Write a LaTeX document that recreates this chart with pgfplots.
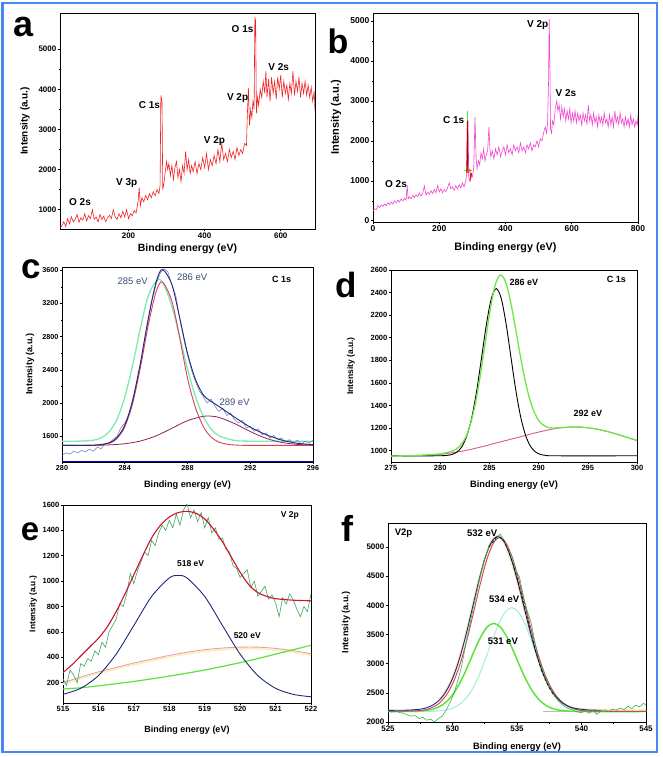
\documentclass[border=0pt]{standalone}
\usepackage{fontspec}
\setmainfont{Liberation Sans}
\usepackage{pgfplots}
\pgfplotsset{compat=1.18}
\definecolor{frameblue}{RGB}{70,135,240}
\definecolor{specred}{RGB}{240,35,35}
\definecolor{specmag}{RGB}{240,70,205}
\definecolor{navy}{RGB}{30,40,125}
\definecolor{pinkred}{RGB}{220,60,95}
\definecolor{maroon}{RGB}{140,35,85}
\definecolor{mint}{RGB}{125,235,175}
\definecolor{datablue}{RGB}{95,125,175}
\definecolor{brightgreen}{RGB}{110,230,70}
\definecolor{dpink}{RGB}{215,90,140}
\definecolor{fitred}{RGB}{205,20,50}
\definecolor{datagreen}{RGB}{60,165,90}
\definecolor{salmon}{RGB}{230,160,165}
\definecolor{paleyellow}{RGB}{250,238,185}
\definecolor{lgreen}{RGB}{95,225,60}
\definecolor{lcyan}{RGB}{165,240,220}
\definecolor{annoblue}{RGB}{60,75,120}
\pgfplotsset{
  panel/.style={
    scale only axis, anchor=south west,
    axis line style={line width=0.7pt},
    tick align=outside, xtick pos=bottom, ytick pos=left,
    major tick length=2.5pt, minor tick length=1.5pt,
    every tick/.style={black, line width=0.6pt},
    /pgf/number format/assume math mode=true,
    /pgf/number format/1000 sep={},
    scaled ticks=false,
    xlabel={Binding energy (eV)}, ylabel={Intensity (a.u.)},
    xticklabel style={inner sep=1pt},
    yticklabel style={inner sep=1pt},
  },
}
\tikzset{lbl/.style={font=\bfseries\fontsize{10}{12}\selectfont, inner sep=0pt}}
\begin{document}
\begin{tikzpicture}
\useasboundingbox (0pt,0pt) rectangle (662pt,757pt);
\draw[frameblue, line width=2.5pt] (2.5pt,5pt) rectangle (657pt,754pt);

% ---------------- panel a ----------------
\begin{axis}[panel, at={(60pt,528pt)}, width=255pt, height=216pt,
  xmin=20, xmax=690, ymin=520, ymax=5900,
  xtick={200,400,600}, ytick={1000,2000,3000,4000,5000},
  minor x tick num=1, minor y tick num=1,
  tick label style={font=\bfseries\fontsize{8}{9}\selectfont},
  xlabel style={font=\bfseries\fontsize{10.5}{12}\selectfont, at={(axis description cs:0.5,-0.0926)}, anchor=center},
  ylabel style={font=\bfseries\fontsize{10}{12}\selectfont, at={(axis description cs:-0.137,0.5)}, anchor=center}]
\addplot[specred, line width=0.6pt] coordinates {
(20,550)(25,600)(30,700)(35,580)(40,780)(45,650)(50,820)(55,700)(60,760)(65,880)
(70,690)(75,800)(80,740)(85,900)(90,720)(95,850)(100,780)(105,1000)(110,760)(115,820)
(120,700)(125,880)(130,760)(135,840)(140,700)(145,800)(150,860)(155,780)(160,1000)(165,820)
(170,760)(175,900)(180,800)(185,960)(190,820)(195,1000)(200,780)(205,900)(210,850)(215,980)
(220,920)(225,1200)(228,1550)(231,1100)(235,1300)(240,1200)(245,1350)(250,1250)(255,1400)(260,1300)
(265,1450)(270,1350)(275,1500)(280,1400)(283,1600)(285,3850)(288,3700)(290,1500)(293,1650)(296,1900)
(300,2200)(303,2000)(306,2150)(310,1850)(314,2100)(318,1750)(322,2050)(326,2200)(330,1800)(334,2000)
(338,1700)(342,2100)(346,1900)(350,2450)(354,2000)(358,2250)(362,1900)(366,2100)(370,1950)(375,2200)
(380,1900)(385,2150)(390,2000)(395,2300)(400,2050)(405,2400)(410,2000)(415,2250)(420,2100)(425,2350)
(430,2150)(435,2500)(440,2200)(445,2650)(450,2250)(455,2400)(460,2200)(465,2500)(470,2300)(475,2450)
(480,2250)(485,2550)(490,2350)(495,2500)(500,2400)(505,2650)(510,2600)(512,3300)(515,4030)(518,3100)
(521,3500)(524,3300)(527,3700)(530,3500)(532,5800)(534,5700)(536,3400)(539,3800)(542,3600)(546,4000)
(550,3800)(554,4200)(558,3900)(561,4450)(564,3800)(568,4250)(572,3700)(576,4300)(580,3900)(584,4200)
(588,3750)(592,4300)(596,4000)(600,4350)(604,3800)(608,4200)(612,3900)(616,4100)(620,3750)(624,4150)
(628,3900)(632,4450)(636,3850)(640,4200)(644,3950)(648,4300)(652,3800)(656,4150)(660,3900)(664,4200)
(668,3850)(672,4100)(676,3800)(680,4050)(684,3700)(688,3950)(690,3450)};
\node[lbl] at (axis cs:499.7,5495) {O 1s};
\node[lbl] at (axis cs:594.5,4565) {V 2s};
\node[lbl] at (axis cs:486.6,3779) {V 2p};
\node[lbl] at (axis cs:255,3612) {C 1s};
\node[lbl] at (axis cs:426,2699) {V 2p};
\node[lbl] at (axis cs:195.5,1664) {V 3p};
\node[lbl] at (axis cs:72.6,1192) {O 2s};
\end{axis}

% ---------------- panel b ----------------
\begin{axis}[panel, at={(373pt,535pt)}, width=265pt, height=209pt,
  xmin=0, xmax=800, ymin=-30, ymax=5200,
  xtick={0,200,400,600,800}, ytick={0,1000,2000,3000,4000,5000},
  minor x tick num=1, minor y tick num=1,
  tick label style={font=\bfseries\fontsize{8.5}{9}\selectfont},
  xlabel style={font=\bfseries\fontsize{10.8}{12}\selectfont, at={(axis description cs:0.5,-0.123)}, anchor=center},
  ylabel style={font=\bfseries\fontsize{11}{12}\selectfont, at={(axis description cs:-0.140,0.5)}, anchor=center}]
\addplot[specmag, line width=0.6pt] coordinates {
(0,250)(5,300)(10,280)(15,380)(20,330)(25,400)(30,360)(35,420)(40,380)(45,450)
(50,400)(55,470)(60,420)(65,500)(70,450)(75,520)(80,470)(85,550)(90,500)(95,560)
(100,520)(103,900)(106,550)(110,600)(115,550)(120,640)(125,580)(130,650)(135,600)(140,700)
(145,620)(150,680)(155,870)(160,640)(165,720)(170,660)(175,750)(180,680)(185,780)(190,700)
(195,880)(200,720)(205,800)(210,700)(215,780)(220,730)(225,820)(230,950)(235,800)(240,850)
(245,760)(250,880)(255,800)(260,900)(265,820)(270,950)(275,850)(280,1000)(283,1200)(285,2550)
(287,2500)(289,1100)(292,1000)(296,1150)(300,1100)(304,1300)(308,2600)(311,1600)(314,1300)(318,1500)
(322,1400)(326,1700)(330,1550)(334,1800)(338,1500)(342,1650)(346,1750)(350,2350)(353,1800)(356,1600)
(360,1750)(365,1550)(370,1800)(375,1650)(380,1850)(385,1600)(390,1750)(395,1850)(400,1650)(405,1900)
(410,1700)(415,1800)(420,1650)(425,1900)(430,1750)(435,1850)(440,1700)(445,1950)(450,1750)(455,1850)
(460,1700)(465,1900)(470,1800)(475,1950)(480,1750)(485,1900)(490,1850)(495,2000)(500,1850)(505,2050)
(510,2000)(515,2200)(520,2350)(524,2200)(527,2450)(530,3500)(532,5050)(534,3900)(536,2300)(539,2200)
(542,2500)(546,2400)(550,2800)(555,3000)(558,2750)(562,2900)(566,2550)(570,2850)(574,2600)(578,2800)
(582,2500)(586,2750)(590,2550)(594,2800)(598,2450)(602,2700)(606,2500)(610,2750)(614,2450)(618,2700)
(622,2500)(626,2650)(630,2400)(634,2700)(638,2500)(642,2650)(646,2400)(650,2900)(654,2500)(658,2650)
(662,2400)(666,2700)(670,2450)(674,2600)(678,2350)(682,2650)(686,2450)(690,2600)(694,2400)(698,2700)
(702,2450)(706,2550)(710,2350)(714,2650)(718,2400)(722,2600)(726,2350)(730,2750)(734,2450)(738,2600)
(742,2400)(746,2700)(750,2450)(754,2550)(758,2350)(762,2600)(766,2400)(770,2550)(774,2350)(778,2650)
(782,2400)(786,2550)(790,2350)(794,2500)(798,2400)(800,2650)};
\addplot[lgreen, line width=1pt] coordinates {(285,1250)(285,2750)};
\addplot[lgreen, line width=1pt] coordinates {(274,1250)(300,1250)};
\addplot[red!70!black, line width=0.8pt] coordinates {(283,1200)(285,2500)(287,1200)};
\addplot[red, line width=0.8pt] coordinates {(292,1300)(295,1050)(298,1200)};
\node[lbl] at (axis cs:497.2,4893) {V 2p};
\node[lbl] at (axis cs:582.6,3203) {V 2s};
\node[lbl] at (axis cs:243.6,2521) {C 1s};
\node[lbl] at (axis cs:69.4,916) {O 2s};
\end{axis}

% ---------------- panel c ----------------
\begin{axis}[panel, at={(62pt,295pt)}, width=251pt, height=195pt,
  xmin=280, xmax=296, ymin=1290, ymax=3640,
  xtick={280,284,288,292,296}, ytick={1600,2000,2400,2800,3200,3600},
  minor x tick num=1, minor y tick num=1,
  tick label style={font=\bfseries\fontsize{7.2}{8}\selectfont},
  xlabel style={font=\bfseries\fontsize{9.2}{11}\selectfont, at={(axis description cs:0.5,-0.118)}, anchor=center},
  ylabel style={font=\bfseries\fontsize{9}{11}\selectfont, at={(axis description cs:-0.127,0.5)}, anchor=center}]
\addplot[blue!80!black, line width=0.8pt] coordinates {(280,1293)(296,1293)};
\addplot[mint, line width=1.3pt, smooth] coordinates {
(280,1540)(281,1541)(282,1553)(282.5,1582)(283,1653)(283.5,1804)(284,2069)(284.5,2455)(285,2903)(285.5,3293)
(286.1,3490)(286.5,3421)(287,3168)(287.5,2802)(288,2414)(288.5,2082)(289,1841)(289.5,1690)(290,1606)(291,1550)(292,1541)(296,1540)};
\addplot[maroon, line width=0.8pt, smooth] coordinates {
(280,1490)(282,1491)(283,1496)(284,1510)(285,1543)(286,1605)(287,1696)(288,1788)(289,1841)(289.3,1845)
(290,1828)(291,1753)(292,1657)(293,1576)(294,1526)(295,1502)(296,1494)};
\addplot[pinkred, line width=0.9pt, smooth] coordinates {
(280,1490)(282,1491)(283,1515)(283.5,1572)(284,1713)(284.5,1993)(285,2430)(285.5,2940)(286,3344)(286.4,3460)
(287,3230)(287.5,2790)(288,2300)(288.5,1950)(289,1720)(289.5,1590)(290,1530)(290.5,1505)(291,1495)(292,1490)(296,1490)};
\addplot[datablue, line width=0.5pt] coordinates {
(280,1370)(280.25,1400)(280.5,1385)(280.75,1420)(281,1400)(281.25,1430)(281.5,1410)(281.75,1445)(282,1420)(282.25,1470)
(282.5,1450)(282.75,1510)(283,1520)(283.25,1560)(283.5,1600)(283.75,1700)(284,1760)(284.25,1850)(284.5,2040)(284.75,2250)
(285,2480)(285.25,2760)(285.5,3000)(285.75,3250)(286,3430)(286.25,3560)(286.5,3620)(286.75,3580)(287,3430)(287.25,3300)
(287.5,3020)(287.75,2780)(288,2580)(288.25,2400)(288.5,2260)(288.75,2150)(289,2080)(289.25,2000)(289.5,2050)(289.75,1960)
(290,1900)(290.25,1940)(290.5,1850)(290.75,1880)(291,1800)(291.25,1760)(291.5,1790)(291.75,1700)(292,1720)(292.25,1660)
(292.5,1690)(292.75,1620)(293,1640)(293.25,1580)(293.5,1610)(293.75,1560)(294,1580)(294.25,1530)(294.5,1560)(294.75,1520)
(295,1550)(295.25,1510)(295.5,1540)(295.75,1520)(296,1550)};
\addplot[navy, line width=0.9pt, smooth] coordinates {
(280,1490)(282,1492)(283,1521)(283.5,1584)(284,1733)(284.5,2028)(285,2483)(285.5,3020)(286,3459)(286.4,3610)
(287,3430)(287.5,3030)(288,2600)(288.5,2290)(289,2100)(289.5,2020)(290,1960)(291,1830)(292,1710)(293,1620)
(294,1555)(295,1515)(296,1500)};
\node[font=\fontsize{9.5}{11}\selectfont, text=annoblue, inner sep=0] at (axis cs:284.5,3467) {285 eV};
\node[font=\fontsize{9.5}{11}\selectfont, text=annoblue, inner sep=0] at (axis cs:288.3,3515) {286 eV};
\node[font=\fontsize{9.5}{11}\selectfont, text=annoblue, inner sep=0] at (axis cs:291.0,2010) {289 eV};
\node[lbl, font=\bfseries\fontsize{9}{11}\selectfont] at (axis cs:294.0,3490) {C 1s};
\end{axis}

% ---------------- panel d ----------------
\begin{axis}[panel, at={(391pt,295pt)}, width=246pt, height=192pt,
  xmin=275, xmax=300, ymin=900, ymax=2600,
  xtick={275,280,285,290,295,300}, ytick={1000,1200,1400,1600,1800,2000,2200,2400,2600},
  minor x tick num=1,
  tick label style={font=\bfseries\fontsize{7.5}{8}\selectfont},
  xlabel style={font=\bfseries\fontsize{9.3}{11}\selectfont, at={(axis description cs:0.5,-0.120)}, anchor=center},
  ylabel style={font=\bfseries\fontsize{8.5}{10}\selectfont, at={(axis description cs:-0.163,0.5)}, anchor=center}]
\addplot[dpink, line width=0.9pt, smooth] coordinates {
(275,952)(278,958)(280,968)(282,992)(284,1030)(286,1075)(288,1120)(290,1165)(292,1200)(294,1210)(296,1190)(298,1145)(300,1090)};
\addplot[black, line width=0.9pt, smooth] coordinates {
(275,955)(279.7,955)(280.7,959)(281.2,967)(281.7,988)(282.2,1035)(282.7,1130)(283.2,1290)(283.7,1526)(284.2,1822)
(284.7,2121)(285.2,2349)(285.7,2435)(286.2,2349)(286.7,2121)(287.2,1822)(287.7,1526)(288.2,1290)(288.7,1130)(289.2,1035)
(289.7,988)(290.2,967)(290.7,959)(291.7,955)(300,955)};
\addplot[brightgreen, line width=1.3pt, smooth] coordinates {
(275,952)(278,960)(280,972)(281.1,993)(281.6,1012)(282.1,1053)(282.6,1120)(283.1,1243)(283.6,1428)(284.1,1678)
(284.6,1972)(285.1,2257)(285.6,2470)(286.1,2555)(286.6,2505)(287.1,2342)(287.6,2111)(288.1,1861)(288.6,1634)(289.1,1455)
(289.6,1333)(290.1,1258)(290.6,1220)(291.1,1204)(291.6,1201)(292,1203)(293,1208)(294,1210)(295,1203)(296,1190)
(297,1170)(298,1145)(299,1118)(300,1090)};
\node[lbl, font=\bfseries\fontsize{9}{11}\selectfont] at (axis cs:288.5,2494) {286 eV};
\node[lbl, font=\bfseries\fontsize{9}{11}\selectfont] at (axis cs:295.0,1327) {292 eV};
\node[lbl, font=\bfseries\fontsize{9}{11}\selectfont] at (axis cs:297.9,2520) {C 1s};
\end{axis}

% ---------------- panel e ----------------
\begin{axis}[panel, at={(63pt,54pt)}, width=248pt, height=198pt,
  xmin=515, xmax=522, ymin=40, ymax=1600,
  xtick={515,516,517,518,519,520,521,522}, ytick={200,400,600,800,1000,1200,1400,1600},
  minor x tick num=1,
  tick label style={font=\bfseries\fontsize{7.5}{8}\selectfont},
  xlabel style={font=\bfseries\fontsize{9}{11}\selectfont, at={(axis description cs:0.5,-0.136)}, anchor=center},
  ylabel style={font=\bfseries\fontsize{8.3}{10}\selectfont, at={(axis description cs:-0.120,0.5)}, anchor=center}]
\addplot[paleyellow, line width=1.6pt, smooth] coordinates {
(515,188)(515.5,232)(516,272)(516.5,307)(517,342)(517.5,372)(518,402)(518.5,427)(519,447)(519.5,460)(520,467)(520.5,467)(521,457)(521.5,440)(522,416)};
\addplot[salmon, line width=0.9pt, smooth] coordinates {
(515,200)(515.5,245)(516,285)(516.5,320)(517,355)(517.5,385)(518,415)(518.5,440)(519,460)(519.5,473)(520,480)(520.5,480)(521,470)(521.5,452)(522,428)};
\addplot[lgreen, line width=1.2pt, smooth] coordinates {
(515,150)(515.5,160)(516,175)(516.5,192)(517,210)(517.5,230)(518,252)(518.5,275)(519,300)(519.5,328)(520,358)(520.5,390)(521,425)(521.5,460)(522,495)};
\addplot[navy, line width=0.9pt, smooth] coordinates {
(515,108)(515.5,156)(516,256)(516.5,425)(517,651)(517.5,879)(518,1025)(518.25,1045)(518.5,1025)(519,879)(519.5,651)(520,425)(520.5,256)(521,156)(521.5,108)(522,89)};
\addplot[datagreen, line width=0.6pt] coordinates {
(515.0,230)(515.1,180)(515.2,300)(515.3,260)(515.4,200)(515.5,350)(515.6,330)(515.7,390)(515.8,370)(515.9,450)
(516.0,420)(516.1,520)(516.2,480)(516.3,600)(516.4,650)(516.5,700)(516.6,820)(516.7,800)(516.8,900)(516.9,1060)
(517.0,980)(517.1,1080)(517.2,1150)(517.3,1230)(517.4,1200)(517.5,1320)(517.6,1280)(517.7,1380)(517.8,1440)(517.9,1400)
(518.0,1480)(518.1,1420)(518.2,1530)(518.3,1440)(518.4,1560)(518.5,1610)(518.6,1500)(518.7,1560)(518.8,1470)(518.9,1540)
(519.0,1420)(519.1,1500)(519.2,1380)(519.3,1420)(519.4,1330)(519.5,1340)(519.6,1250)(519.7,1230)(519.8,1120)(519.9,1100)
(520.0,1030)(520.1,1060)(520.2,1090)(520.3,950)(520.4,1000)(520.5,880)(520.6,920)(520.7,960)(520.8,860)(520.9,890)
(521.0,830)(521.1,720)(521.2,870)(521.3,820)(521.4,900)(521.5,850)(521.6,780)(521.7,720)(521.8,800)(521.9,760)(522.0,900)};
\addplot[fitred, line width=1.1pt, smooth] coordinates {
(515,280)(515.25,340)(515.5,410)(515.75,480)(516,550)(516.25,640)(516.5,760)(516.75,900)(517,1050)(517.25,1200)
(517.5,1340)(517.75,1440)(518,1505)(518.25,1540)(518.5,1550)(518.75,1535)(519,1490)(519.25,1410)(519.5,1310)(519.75,1190)
(520,1070)(520.25,970)(520.5,910)(520.75,880)(521,862)(521.5,850)(522,845)};
\node[lbl, font=\bfseries\fontsize{8.5}{10}\selectfont] at (axis cs:518.6,1139) {518 eV};
\node[lbl, font=\bfseries\fontsize{8.5}{10}\selectfont] at (axis cs:520.2,572) {520 eV};
\node[lbl, font=\bfseries\fontsize{8.5}{10}\selectfont] at (axis cs:521.4,1520) {V 2p};
\end{axis}

% ---------------- panel f ----------------
\begin{axis}[panel, at={(388pt,35pt)}, width=258pt, height=199pt,
  xmin=525, xmax=545, ymin=2000, ymax=5410,
  xtick={525,530,535,540,545}, ytick={2000,2500,3000,3500,4000,4500,5000},
  minor x tick num=1,
  tick label style={font=\bfseries\fontsize{8}{9}\selectfont},
  xlabel style={font=\bfseries\fontsize{9.3}{11}\selectfont, at={(axis description cs:0.5,-0.124)}, anchor=center},
  ylabel style={font=\bfseries\fontsize{9}{11}\selectfont, at={(axis description cs:-0.163,0.5)}, anchor=center}]
\addplot[paleyellow, line width=3pt, smooth] coordinates {
(529,2380)(530,2746)(531,3454)(532,4382)(533,5078)(533.5,5180)(534,5088)(535,4450)(536,3565)(537,2845)(538,2437)(539,2268)(540.5,2207)(545,2200)};
\addplot[gray!55, line width=1.4pt] coordinates {(537,2185)(545,2185)};
\addplot[lcyan, line width=1.1pt, smooth] coordinates {
(525,2180)(527.6,2180)(528.6,2185)(529.6,2210)(530.1,2245)(530.6,2311)(531.1,2420)(531.6,2589)(532.1,2821)(532.6,3106)
(533.1,3414)(533.6,3691)(534.1,3889)(534.6,3960)(535.1,3889)(535.6,3691)(536.1,3414)(536.6,3106)(537.1,2821)(537.6,2589)
(538.1,2420)(538.6,2311)(539.1,2245)(539.6,2210)(540.6,2185)(545,2180)};
\addplot[lgreen, line width=1.5pt, smooth] coordinates {
(525,2180)(526.2,2180)(527.2,2184)(528.2,2206)(528.7,2235)(529.2,2291)(529.7,2384)(530.2,2528)(530.7,2724)(531.2,2966)
(531.7,3226)(532.2,3462)(532.7,3630)(533.2,3690)(533.7,3630)(534.2,3462)(534.7,3226)(535.2,2966)(535.7,2724)(536.2,2528)
(536.7,2384)(537.2,2291)(537.7,2235)(538.2,2206)(539.2,2184)(540.2,2180)(545,2180)};
\addplot[pinkred, line width=0.9pt, smooth] coordinates {
(525,2180)(527.65,2200)(528.65,2274)(529.15,2360)(529.65,2505)(530.15,2726)(530.65,3036)(531.15,3434)(531.65,3893)(532.15,4362)
(532.65,4775)(533.15,5058)(533.65,5160)(534.15,5068)(534.65,4809)(535.15,4430)(535.65,3988)(536.15,3545)(536.65,3148)(537.15,2825)
(537.65,2583)(538.15,2417)(538.65,2311)(539.15,2248)(539.65,2213)(540.65,2187)(545,2180)};
\addplot[navy!85!blue, line width=0.9pt, smooth] coordinates {
(525,2200)(526.5,2203)(527.5,2220)(528,2245)(528.5,2294)(529,2380)(529.5,2525)(530,2746)(530.5,3056)(531,3454)
(531.5,3913)(532,4382)(532.5,4795)(533,5078)(533.5,5180)(534,5088)(534.5,4829)(535,4450)(535.5,4008)(536,3565)
(536.5,3168)(537,2845)(537.5,2603)(538,2437)(538.5,2331)(539,2268)(539.5,2233)(540.5,2207)(541.5,2201)};
\addplot[datagreen!80!green, line width=0.6pt] coordinates {
(525,2190)(525.3,2170)(525.6,2200)(525.9,2160)(526.2,2150)(526.5,2120)(526.8,2100)(527.1,2110)(527.4,2060)(527.7,2080)
(528.0,2030)(528.3,2050)(528.6,2000)(528.9,2060)(529.2,2100)(529.5,2200)(529.8,2330)(530.1,2480)(530.4,2700)(530.7,2950)
(531.0,3300)(531.3,3620)(531.6,3950)(531.9,4250)(532.2,4550)(532.5,4800)(532.8,4980)(533.1,5080)(533.4,5150)(533.7,5220)
(534.0,5100)(534.3,4950)(534.6,4850)(534.9,4600)(535.2,4480)(535.5,4150)(535.8,3900)(536.1,3700)(536.4,3350)(536.7,3050)
(537.0,2900)(537.3,2700)(537.6,2560)(537.9,2450)(538.2,2360)(538.5,2300)(538.8,2250)(539.1,2220)(539.4,2200)(539.7,2170)
(540.0,2160)(540.3,2190)(540.6,2150)(540.9,2200)(541.2,2130)(541.5,2190)(541.8,2210)(542.1,2180)(542.4,2220)(542.7,2200)
(543.0,2240)(543.3,2210)(543.6,2270)(543.9,2230)(544.2,2290)(544.5,2260)(544.8,2320)(545.0,2290)};
\addplot[black, line width=0.6pt, densely dashed] coordinates {
(532.8,5000)(533.4,5160)(533.9,5150)(534.4,4900)(534.9,4560)(535.4,4150)(535.9,3700)(536.4,3250)(536.9,2880)(537.4,2620)(537.9,2440)};
\node[lbl, font=\bfseries\fontsize{9.5}{11}\selectfont] at (axis cs:526.2,5235) {V2p};
\node[lbl, font=\bfseries\fontsize{9.5}{11}\selectfont] at (axis cs:532.3,5235) {532 eV};
\node[lbl, font=\bfseries\fontsize{9.5}{11}\selectfont] at (axis cs:534.0,4108) {534 eV};
\node[lbl, font=\bfseries\fontsize{9.5}{11}\selectfont] at (axis cs:533.9,3377) {531 eV};
\end{axis}

% panel letters
\node[font=\bfseries\fontsize{36}{36}\selectfont, inner sep=0] at (24pt,729.7pt) {a};
\node[font=\bfseries\fontsize{34}{34}\selectfont, inner sep=0] at (338pt,716pt) {b};
\node[font=\bfseries\fontsize{35}{35}\selectfont, inner sep=0] at (31.7pt,488pt) {c};
\node[font=\bfseries\fontsize{35}{35}\selectfont, inner sep=0] at (346pt,472pt) {d};
\node[font=\bfseries\fontsize{33}{33}\selectfont, inner sep=0] at (30pt,225.3pt) {e};
\node[font=\bfseries\fontsize{36}{36}\selectfont, inner sep=0] at (347.7pt,228.7pt) {f};
\end{tikzpicture}
\end{document}
